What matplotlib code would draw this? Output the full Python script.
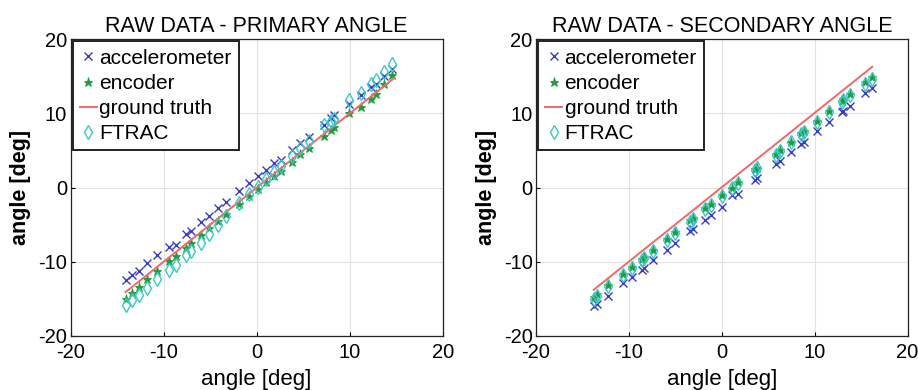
import matplotlib
matplotlib.use("Agg")
import matplotlib.pyplot as plt

plt.rcParams['font.family'] = ['Liberation Sans', 'DejaVu Sans']

# ---------------- data: primary angle ----------------
x_primary = [-14.1, -13.4, -12.7, -11.8, -10.7, -9.4, -8.7, -7.6, -7.1, -6.0, -5.1,
             -4.2, -3.3, -1.9, -0.8, 0.1, 1.0, 1.9, 2.6, 3.8, 4.7, 5.6, 7.2, 8.0,
             8.3, 9.9, 11.2, 12.3, 12.8, 13.7, 14.6]
acc_primary = [-12.5, -11.8, -11.3, -10.2, -9.1, -8.0, -7.7, -6.2, -5.9, -4.6, -3.9,
               -2.8, -1.9, -0.4, 0.6, 1.5, 2.4, 3.3, 3.7, 5.1, 6.0, 6.8, 8.4, 9.4,
               9.8, 11.3, 12.5, 13.6, 14.0, 15.1, 16.0]
enc_primary = [-15.0, -14.2, -13.4, -12.4, -11.2, -9.9, -9.2, -8.1, -7.5, -6.4, -5.4,
               -4.5, -3.6, -2.2, -1.1, -0.2, 0.7, 1.6, 2.3, 3.5, 4.5, 5.4, 7.0, 7.8,
               8.2, 10.0, 10.9, 12.0, 12.6, 14.0, 15.2]
ftrac_primary = [-15.8, -15.2, -14.5, -13.6, -12.4, -11.1, -10.4, -9.1, -8.6, -7.5, -6.2,
                 -5.0, -3.9, -2.1, -0.9, 0.1, 1.1, 2.1, 2.9, 4.2, 5.3, 6.3, 8.5, 9.0,
                 9.2, 11.8, 12.7, 14.0, 14.5, 15.6, 16.7]
truth_x_primary = [-14.1, 14.8]
truth_y_primary = [-14.1, 14.8]

# ---------------- data: secondary angle ----------------
x_secondary = [-13.8, -13.4, -12.2, -10.6, -9.7, -8.6, -8.4, -7.4, -5.9, -5.0, -3.4,
               -3.1, -1.8, -1.2, 0.0, 1.1, 1.8, 3.6, 3.8, 5.8, 6.3, 7.4, 8.5, 8.8,
               10.2, 11.5, 12.9, 13.1, 13.8, 15.4, 16.2]
acc_secondary = [-16.0, -15.7, -14.6, -12.9, -12.1, -11.1, -10.9, -9.8, -8.4, -7.5, -5.8,
                 -5.6, -4.4, -3.7, -2.6, -1.0, -0.8, 1.0, 1.3, 3.2, 3.6, 4.8, 5.9, 6.1,
                 7.6, 8.8, 10.2, 10.4, 11.0, 12.7, 13.4]
enc_secondary = [-14.8, -14.4, -13.2, -11.6, -10.7, -9.6, -9.4, -8.4, -6.9, -6.0, -4.4,
                 -4.1, -2.8, -2.2, -1.0, 0.0, 0.7, 2.5, 2.7, 4.6, 5.1, 6.2, 7.3, 7.6,
                 9.0, 10.3, 11.7, 11.9, 12.6, 14.2, 14.9]
ftrac_secondary = [-15.0, -14.6, -13.3, -11.8, -10.8, -9.8, -9.5, -8.5, -7.1, -6.1, -4.6,
                   -4.2, -2.9, -2.3, -1.1, -0.1, 0.6, 2.4, 2.6, 4.4, 5.0, 6.1, 7.2, 7.5,
                   8.9, 10.2, 11.5, 11.8, 12.5, 14.0, 14.7]
truth_x_secondary = [-13.8, 16.2]
truth_y_secondary = [-13.8, 16.3]

titles = ["RAW DATA - PRIMARY ANGLE", "RAW DATA - SECONDARY ANGLE"]
ticks = [-20, -10, 0, 10, 20]
tick_labels = ["-20", "-10", "0", "10", "20"]

fig = plt.figure(figsize=(9.18, 3.9), dpi=100)
ax1 = fig.add_axes([0.077, 0.139, 0.4052, 0.760])
ax2 = fig.add_axes([0.5839, 0.139, 0.4047, 0.760])

panels = [
    (ax1, x_primary, acc_primary, enc_primary, ftrac_primary, truth_x_primary, truth_y_primary, titles[0]),
    (ax2, x_secondary, acc_secondary, enc_secondary, ftrac_secondary, truth_x_secondary, truth_y_secondary, titles[1]),
]

for ax, xs, acc, enc, ftr, tx, ty, title in panels:
    ax.plot(xs, acc, linestyle='none', marker='x', color='#3a3ac8', markersize=5.5,
            markeredgewidth=1.0, label='accelerometer')
    ax.plot(xs, enc, linestyle='none', marker='*', color='#1e9e3a', markersize=6.5,
            markeredgewidth=0.6, label='encoder')
    ax.plot(tx, ty, color='#f06868', linewidth=1.4, label='ground truth')
    ax.plot(xs, ftr, linestyle='none', marker='d', markerfacecolor='none',
            markeredgecolor='#3cc8c8', markersize=7.5, markeredgewidth=1.0, label='FTRAC')
    ax.set_xlim(-20, 20)
    ax.set_ylim(-20, 20)
    ax.set_xticks(ticks)
    ax.set_xticklabels(tick_labels)
    ax.set_yticks(ticks)
    ax.set_yticklabels(tick_labels)
    ax.tick_params(labelsize=14.5, direction='in', length=3, pad=2.5)
    ax.tick_params(axis='x', pad=5)
    ax.grid(True, color='#e2e2e2', linewidth=0.8)
    ax.set_axisbelow(True)
    for s in ax.spines.values():
        s.set_color('#222222')
        s.set_linewidth(0.9)
    ax.set_title(title, fontsize=15.5, pad=5.5)
    ax.set_xlabel('angle [deg]', fontsize=16, labelpad=5)
    ax.set_ylabel('angle [deg]', fontsize=15.5, fontweight='bold', labelpad=5)
    leg = ax.legend(loc='upper left', fontsize=15, frameon=True, fancybox=False,
                    handlelength=0.8, handletextpad=0.12, borderpad=0.35,
                    labelspacing=0.29, borderaxespad=0.1, numpoints=1)
    leg.get_frame().set_edgecolor('#222222')
    leg.get_frame().set_linewidth(1.4)
    leg.get_frame().set_alpha(1)

fig.savefig('out.png', dpi=100)
